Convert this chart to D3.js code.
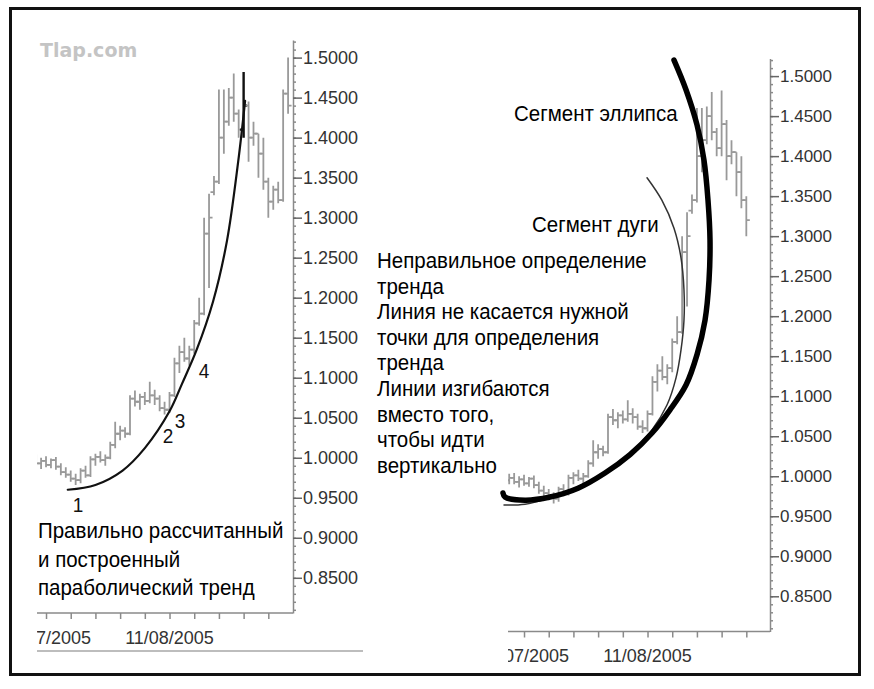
<!DOCTYPE html>
<html>
<head>
<meta charset="utf-8">
<script src="https://cdn.jsdelivr.net/npm/d3@7"></script>
<style>
  body { margin: 0; background: #fff; }
  svg { display: block; }
  text { font-family: "Liberation Sans", Arial, sans-serif; }
</style>
</head>
<body>
<svg id="chart" width="874" height="689"></svg>
<script>
// daily bars (same series in both panels)
const barOpen  = [0.995, 0.998, 0.993, 0.996, 0.991, 0.997, 0.989, 0.982, 0.979, 0.974,
                  0.972, 0.984, 0.978, 0.998, 1.001, 0.997, 1.000, 1.016, 1.030, 1.034,
                  1.030, 1.074, 1.070, 1.076, 1.071, 1.078, 1.074, 1.062, 1.060, 1.078,
                  1.118, 1.132, 1.124, 1.135, 1.168, 1.180, 1.280, 1.332, 1.345, 1.400,
                  1.420, 1.450, 1.430, 1.410, 1.440, 1.400, 1.405, 1.380, 1.345, 1.320,
                  1.335, 1.322, 1.455];
const barHigh  = [1.003, 1.004, 1.000, 1.002, 0.999, 1.001, 0.993, 0.988, 0.984, 0.980,
                  0.987, 0.990, 1.002, 1.005, 1.008, 1.004, 1.020, 1.045, 1.040, 1.038,
                  1.078, 1.084, 1.080, 1.082, 1.095, 1.085, 1.078, 1.070, 1.082, 1.125,
                  1.140, 1.150, 1.140, 1.172, 1.200, 1.300, 1.330, 1.352, 1.460, 1.460,
                  1.462, 1.480, 1.435, 1.482, 1.445, 1.420, 1.405, 1.400, 1.350, 1.340,
                  1.345, 1.460, 1.500];
const barLow   = [0.990, 0.990, 0.986, 0.988, 0.987, 0.985, 0.978, 0.975, 0.970, 0.966,
                  0.968, 0.975, 0.976, 0.990, 0.994, 0.990, 0.998, 1.012, 1.022, 1.025,
                  1.028, 1.064, 1.060, 1.066, 1.068, 1.066, 1.058, 1.054, 1.056, 1.076,
                  1.106, 1.120, 1.115, 1.130, 1.165, 1.178, 1.212, 1.328, 1.342, 1.380,
                  1.415, 1.420, 1.400, 1.400, 1.370, 1.390, 1.350, 1.335, 1.300, 1.310,
                  1.318, 1.320, 1.430];
const barClose = [0.998, 0.993, 0.996, 0.991, 0.997, 0.989, 0.982, 0.979, 0.974, 0.972,
                  0.984, 0.978, 0.998, 1.001, 0.997, 1.000, 1.016, 1.030, 1.034, 1.030,
                  1.074, 1.070, 1.076, 1.071, 1.078, 1.074, 1.062, 1.060, 1.078, 1.118,
                  1.132, 1.124, 1.135, 1.168, 1.180, 1.280, 1.300, 1.345, 1.400, 1.420,
                  1.450, 1.430, 1.410, 1.440, 1.400, 1.405, 1.380, 1.345, 1.320, 1.335,
                  1.322, 1.455, 1.440];
const highlightBar = 43;

const priceTicks = [0.85, 0.90, 0.95, 1.00, 1.05, 1.10, 1.15, 1.20, 1.25, 1.30, 1.35, 1.40, 1.45, 1.50];
const weekTicks = [3, 8, 13, 18, 23, 28, 33, 38, 43, 48];
const dateTickIdx = [3, 28];
const dateLabels = ["07/07/2005", "11/08/2005"];

// curves, as (bar index, price) points
const parabolaIdx = [7.4, 13, 18.5, 23, 28, 30.5, 33.5, 36.8, 39.6, 41.9, 43.3];
const parabolaVal = [0.960, 0.966, 0.984, 1.012, 1.058, 1.092, 1.135, 1.195, 1.270, 1.370, 1.446];
const ellipseIdx = [-1.26, -0.85, 3.2, 8.26, 13.93, 19.39, 24.46, 28.91, 32.55, 35.79, 38.02,
                    39.64, 40.45, 40.65, 40.24, 39.43, 38.02, 35.79, 33.36];
const ellipseVal = [0.979, 0.974, 0.970, 0.974, 0.985, 1.004, 1.027, 1.054, 1.083, 1.114, 1.152,
                    1.195, 1.245, 1.295, 1.345, 1.395, 1.439, 1.483, 1.520];
const arcIdx = [-1.05, 3.2, 8.26, 13.93, 19.39, 24.46, 28.91, 31.94, 33.77, 34.78, 35.38,
                35.38, 34.78, 33.36, 30.9, 27.9];
const arcVal = [0.964, 0.965, 0.973, 0.987, 1.005, 1.029, 1.058, 1.089, 1.123, 1.158, 1.195,
                1.233, 1.273, 1.310, 1.345, 1.373];

const pointLabels = ["1", "2", "3", "4"];
const leftNote = ["Правильно рассчитанный", "и построенный", "параболический тренд"];
const rightNote = ["Неправильное определение", "тренда", "Линия не касается нужной", "точки для определения",
                   "тренда", "Линии изгибаются", "вместо того,", "чтобы идти", "вертикально"];

const svg = d3.select("#chart");

// outer frame
svg.append("rect")
  .attr("x", 10.5).attr("y", 8.5)
  .attr("width", 849).attr("height", 666)
  .attr("fill", "none")
  .attr("stroke", "#111")
  .attr("stroke-width", 3);

svg.append("text")
  .attr("x", 40).attr("y", 57)
  .style("font-family", "'DejaVu Sans', sans-serif")
  .style("font-weight", "bold")
  .style("font-size", "19px")
  .attr("fill", "#c4c4c4")
  .text("Tlap.com");

const drawPanel = (p) => {
  const n = barOpen.length;
  const x = d3.scaleLinear().domain([0, n - 1]).range([p.x0, p.x0 + 4.94 * (n - 1)]);
  const y = d3.scaleLinear().domain([0.806, 1.522]).range([p.yBottom, p.yBottom - 573]);
  const g = svg.append("g");

  const clipId = "clip-" + p.id;
  svg.append("defs").append("clipPath").attr("id", clipId)
    .append("rect")
    .attr("x", p.left).attr("y", 0)
    .attr("width", 874 - p.left).attr("height", 689);

  // y axis, minor then major ticks
  const minor = d3.range(81, 153).map(d => d / 100);
  g.append("g")
    .attr("transform", `translate(${p.axisX},0)`)
    .call(d3.axisRight(y).tickValues(minor).tickSize(3).tickSizeOuter(0).tickFormat(""))
    .call(a => a.selectAll("line,path").attr("stroke", "#8a8a8a").attr("stroke-width", 1.5));
  g.append("g")
    .attr("transform", `translate(${p.axisX},0)`)
    .call(d3.axisRight(y).tickValues(priceTicks).tickSize(9).tickSizeOuter(0).tickPadding(1).tickFormat(d3.format(".4f")))
    .call(a => a.select(".domain").remove())
    .call(a => a.selectAll("line").attr("stroke", "#666").attr("stroke-width", 1.5))
    .call(a => a.selectAll("text")
      .style("font-family", "'Liberation Sans', Arial, sans-serif")
      .style("font-size", p.tickFont)
      .attr("fill", "#333"));

  // x axis
  g.append("line")
    .attr("x1", p.left).attr("x2", p.axisX)
    .attr("y1", p.yBottom).attr("y2", p.yBottom)
    .attr("stroke", "#8a8a8a").attr("stroke-width", 1.5);
  g.append("g")
    .attr("transform", `translate(0,${p.yBottom})`)
    .call(d3.axisBottom(x).tickValues(weekTicks).tickSize(6).tickFormat(""))
    .call(a => a.select(".domain").remove())
    .call(a => a.selectAll("line").attr("stroke", "#8a8a8a").attr("stroke-width", 1.5));
  g.append("g")
    .attr("clip-path", `url(#${clipId})`)
    .selectAll("text")
    .data(dateTickIdx)
    .enter().append("text")
    .attr("x", d => x(d))
    .attr("y", p.yBottom + 30.5)
    .attr("text-anchor", "middle")
    .style("font-size", "18px")
    .attr("fill", "#333")
    .text((d, k) => dateLabels[k]);

  // OHLC bars
  const bars = d3.range(p.nBars).map(i => ({
    i, o: barOpen[i], h: barHigh[i], l: barLow[i], c: barClose[i]
  }));
  g.append("g")
    .attr("clip-path", `url(#${clipId})`)
    .selectAll("path")
    .data(bars)
    .enter().append("path")
    .attr("d", d => {
      const cx = x(d.i);
      return `M${cx},${y(d.h)}V${y(d.l)}M${cx - 3.5},${y(d.o)}H${cx}M${cx},${y(d.c)}H${cx + 3.5}`;
    })
    .attr("fill", "none")
    .attr("stroke", d => (p.highlight && d.i === highlightBar) ? "#111" : "#999")
    .attr("stroke-width", d => (p.highlight && d.i === highlightBar) ? 2.4 : 1.8);

  const line = d3.line()
    .x(d => x(d[0]))
    .y(d => y(d[1]))
    .curve(d3.curveCatmullRom.alpha(0.5));

  p.curves.forEach(c => {
    g.append("path")
      .datum(d3.zip(c.idx, c.val))
      .attr("d", line)
      .attr("fill", "none")
      .attr("stroke", c.color)
      .attr("stroke-width", c.width)
      .attr("stroke-linecap", "round");
  });
};

drawPanel({
  id: "left", x0: 31.2, left: 37, axisX: 293, yBottom: 613, nBars: 53,
  tickFont: "18px", highlight: true,
  curves: [{ idx: parabolaIdx, val: parabolaVal, color: "#111", width: 2.2 }]
});

drawPanel({
  id: "right", x0: 509.2, left: 508, axisX: 770, yBottom: 631.5, nBars: 49,
  tickFont: "17px", highlight: false,
  curves: [
    { idx: arcIdx, val: arcVal, color: "#333", width: 1.5 },
    { idx: ellipseIdx, val: ellipseVal, color: "#000", width: 5.5 }
  ]
});

// grey rule under the left dates
svg.append("line")
  .attr("x1", 37).attr("x2", 363)
  .attr("y1", 651).attr("y2", 651)
  .attr("stroke", "#bdbdbd").attr("stroke-width", 2);

// touch point numbers
const pointPos = [[78, 512], [168, 443], [180, 428], [204, 378]];
svg.append("g").selectAll("text")
  .data(pointLabels)
  .enter().append("text")
  .attr("transform", (d, k) => `translate(${pointPos[k][0]},${pointPos[k][1]}) scale(1,1.1)`)
  .attr("text-anchor", "middle")
  .style("font-size", "19px")
  .attr("fill", "#111")
  .text(d => d);

// annotations
const addNote = (lines, x0, y0, step) => {
  svg.append("g").selectAll("text")
    .data(lines)
    .enter().append("text")
    .attr("transform", (d, k) => `translate(${x0},${y0 + k * step}) scale(1,1.1)`)
    .style("font-size", "20.5px")
    .attr("fill", "#000")
    .text(d => d);
};
addNote(leftNote, 38, 538, 28.5);
addNote(rightNote, 377, 268, 25.6);
addNote(["Сегмент эллипса"], 514, 121, 0);
addNote(["Сегмент дуги"], 532, 232, 0);
</script>
</body>
</html>
